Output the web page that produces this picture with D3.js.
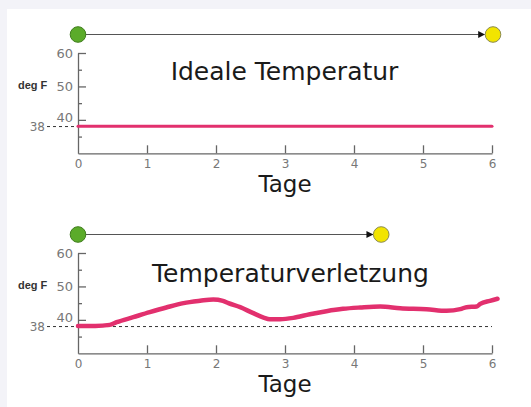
<!DOCTYPE html>
<html><head><meta charset="utf-8">
<script src="https://cdn.jsdelivr.net/npm/d3@7"></script>
<style>
html,body{margin:0;padding:0;background:#f3f3f8;}
svg{display:block;}
</style></head>
<body>
<script>
// ---- data ----
const days = [0, 1, 2, 3, 4, 5, 6];
const yTicksMajor = [40, 50, 60];
const yTicksMinor = [35, 45, 55];
const thresholdValue = 38;
const titles = ["Ideale Temperatur", "Temperaturverletzung"];
const xAxisTitle = "Tage";
const yAxisTitle = "deg F";
// ideal temperature series (days, deg F)
const idealDays = [0, 6];
const idealTemps = [38.1, 38.1];
// violation series (days, deg F)
const violDays = [0, 0.25, 0.46, 0.56, 0.8, 1.04, 1.28, 1.53, 1.77, 1.96, 2.1, 2.18, 2.35, 2.54, 2.69, 2.78, 2.93, 3.12, 3.36, 3.6, 3.84, 4.09, 4.38, 4.67, 5.05, 5.34, 5.54, 5.63, 5.78, 5.83, 5.97, 6.08];
const violTemps = [38.2, 38.2, 38.5, 39.3, 40.8, 42.3, 43.7, 45.0, 45.7, 46.1, 45.7, 45.0, 43.8, 42.0, 40.7, 40.2, 40.2, 40.6, 41.7, 42.6, 43.3, 43.7, 44.0, 43.5, 43.2, 42.7, 43.2, 43.8, 44.0, 44.8, 45.7, 46.3];
// timeline end (days) for each panel
const timelineEnd = [6, 4.38];

const W = 531, H = 407;
const svg = d3.select("body").append("svg").attr("width", W).attr("height", H);
svg.append("rect").attr("x", 7).attr("y", 9).attr("width", W - 7).attr("height", H - 9).attr("fill", "#ffffff");

const defs = svg.append("defs");
defs.append("marker").attr("id", "arr").attr("viewBox", "0 0 10 10")
  .attr("refX", 9).attr("refY", 5).attr("markerWidth", 7).attr("markerHeight", 7)
  .attr("markerUnits", "userSpaceOnUse").attr("orient", "auto")
  .append("path").attr("d", "M0,0L10,5L0,10Z").attr("fill", "#111");

const x = d3.scaleLinear().domain([0, 6]).range([78, 492]);
const font = "'DejaVu Sans', Verdana, sans-serif";

function panel(i, seriesX, seriesY, dashedAcross) {
  const off = i * 200;
  const y = d3.scaleLinear().domain([30, 60]).range([153.3 + off, 53 + off]);
  const g = svg.append("g");

  // timeline
  const ty = 34.5 + off;
  const xe = x(timelineEnd[i]) + 1;
  g.append("line").attr("x1", x(0)).attr("x2", xe - 8.5).attr("y1", ty).attr("y2", ty)
    .attr("stroke", "#555").attr("stroke-width", 1.2).attr("marker-end", "url(#arr)");
  g.append("circle").attr("cx", x(0)).attr("cy", ty).attr("r", 7.8)
    .attr("fill", "#5bab2a").attr("stroke", "#3f7d1c").attr("stroke-width", 1);
  g.append("circle").attr("cx", xe).attr("cy", ty).attr("r", 7.8)
    .attr("fill", "#f2e400").attr("stroke", "#8a8a50").attr("stroke-width", 1);

  // title
  g.append("text").attr("x", i === 0 ? 284.5 : 290.5).attr("y", 80 + off + (i === 1 ? 1.5 : 0))
    .attr("text-anchor", "middle").attr("font-family", font).attr("font-size", 25)
    .attr("fill", "#1a1a1a").text(titles[i]);

  // threshold dashed line + label
  g.append("line").attr("x1", 47).attr("x2", dashedAcross ? x(6) : x(0))
    .attr("y1", y(thresholdValue)).attr("y2", y(thresholdValue))
    .attr("stroke", "#333").attr("stroke-width", 1).attr("stroke-dasharray", "3,3");
  g.append("text").attr("x", 45).attr("y", y(thresholdValue)).attr("dy", "0.35em")
    .attr("text-anchor", "end").attr("font-family", font).attr("font-size", 12)
    .attr("fill", "#777").text(String(thresholdValue));

  // y axis
  const yMinor = g.append("g").attr("transform", `translate(${x(0)},0)`)
    .call(d3.axisLeft(y).tickValues(yTicksMinor).tickSizeInner(-4).tickSizeOuter(0).tickFormat(""));
  yMinor.select(".domain").remove();
  const yAx = g.append("g").attr("transform", `translate(${x(0)},0)`)
    .call(d3.axisLeft(y).tickValues(yTicksMajor).tickSizeInner(-8).tickSizeOuter(0).tickPadding(5));
  yAx.selectAll("text").attr("font-family", font).attr("font-size", 13).attr("fill", "#777");
  yAx.selectAll("text").filter(d => d === 40).attr("dy", "0.1em");

  // x axis
  const xAx = g.append("g").attr("transform", `translate(0,${y(30)})`)
    .call(d3.axisBottom(x).tickValues(days).tickSizeInner(-8).tickSizeOuter(0).tickPadding(6).tickFormat(d3.format("d")));
  xAx.selectAll("text").attr("font-family", font).attr("font-size", 12).attr("fill", "#777");
  xAx.selectAll(".tick").filter(d => d === 0).select("line").remove();
  [yAx, xAx, yMinor].forEach(a => {
    a.selectAll("line").attr("stroke", "#666").attr("stroke-width", 1.3);
    a.select(".domain").attr("stroke", "#666").attr("stroke-width", 1.3);
  });

  g.append("text").attr("x", 18).attr("y", 85.5 + off).attr("dy", "0.35em")
    .attr("font-family", "'Liberation Sans', Arial, sans-serif").attr("font-weight", "bold")
    .attr("font-size", 11).attr("fill", "#333").text(yAxisTitle);

  g.append("text").attr("x", 285).attr("y", 192 + off).attr("text-anchor", "middle")
    .attr("font-family", font).attr("font-size", 23).attr("fill", "#1a1a1a").text(xAxisTitle);

  // series
  const pts = seriesX.map((d, k) => [d, seriesY[k]]);
  const line = d3.line().x(d => x(d[0])).y(d => y(d[1])).curve(d3.curveMonotoneX);
  g.append("path").attr("d", line(pts)).attr("fill", "none")
    .attr("stroke", "#e2306e").attr("stroke-width", i === 0 ? 3 : 4.5)
    .attr("stroke-linecap", "round").attr("stroke-linejoin", "round");
}

panel(0, idealDays, idealTemps, false);
panel(1, violDays, violTemps, true);
</script>
</body></html>
